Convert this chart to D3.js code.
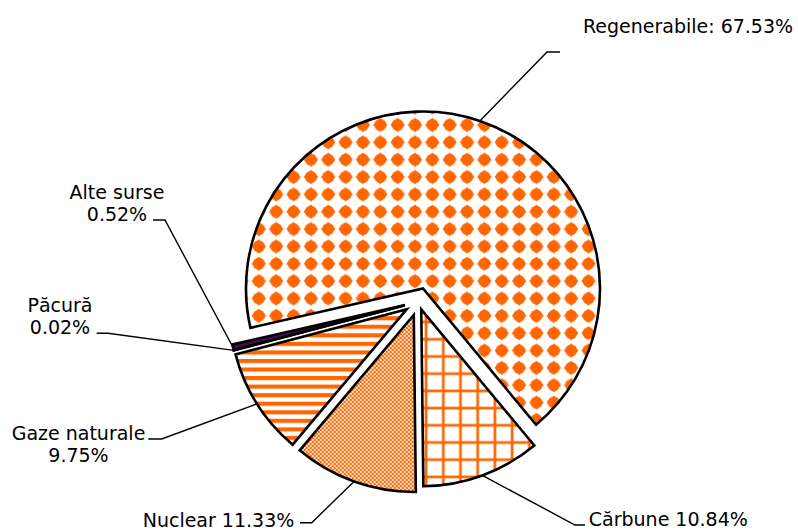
<!DOCTYPE html>
<html><head><meta charset="utf-8">
<script src="https://cdn.jsdelivr.net/npm/d3@7/dist/d3.min.js"></script>
<style>
html,body{margin:0;padding:0;background:#fff;}
svg{display:block;}
text{font-family:"DejaVu Sans",Verdana,sans-serif;font-size:19px;fill:#000;}
</style></head>
<body>
<svg id="chart" width="798" height="531"></svg>
<script>
// ---- data ----
const categories = ["Cărbune", "Nuclear", "Gaze naturale", "Păcură", "Alte surse", "Regenerabile"];
const shares = [10.84, 11.33, 9.75, 0.02, 0.52, 67.53];

// ---- layout / style (not data) ----
const W = 798, H = 531;
const center = {x: 418.5, y: 301.8};
const radius = 177;
const startDeg = 140.3;
const explode = [8, 14, 14, 14, 14, 14];
const fills = ["url(#pCarb)", "url(#pNuc)", "url(#pGaz)", "#4a0a52", "#4a0a52", "url(#pReg)"];
// label layout: anchor x, first line center y, elbow, end of horizontal
const labelLayout = [
  {fmt: "inline", x: 668.3, y: 519, elbow: [575, 525], end: [585, 525]},
  {fmt: "inline", x: 218.5, y: 520, elbow: [311.7, 522.7], end: [300, 522.7]},
  {fmt: "twoline", x: 78.5, y: 432.7, elbow: [161.7, 439], end: [148.3, 439]},
  {fmt: "twoline", x: 60, y: 305, elbow: [108, 333.3], end: [96.7, 333.3]},
  {fmt: "twoline", x: 117, y: 191.7, elbow: [165, 220], end: [153, 220]},
  {fmt: "colon", x: 688, y: 26, elbow: [547, 52], end: [560, 52]}
];
const lineGap = 22.5;

const svg = d3.select("#chart");
const defs = svg.append("defs");
const orange = "#ff6600";

const rad = d => d * Math.PI / 180;
const pie = d3.pie().sort(null).value(d => d)
  .startAngle(rad(startDeg)).endAngle(rad(startDeg + 360));
const arcs = pie(shares);
const arcGen = d3.arc().innerRadius(0).outerRadius(radius);

const apex = arcs.map((a, i) => {
  const mid = (a.startAngle + a.endAngle) / 2;
  return {x: center.x + explode[i] * Math.sin(mid), y: center.y - explode[i] * Math.cos(mid), mid};
});

const mod = (v, m) => ((v % m) + m) % m;

// Regenerabile: rounded diamond dots
(function () {
  const s = 17.35, a = apex[5];
  const p = defs.append("pattern").attr("id", "pReg").attr("patternUnits", "userSpaceOnUse")
    .attr("width", s).attr("height", s)
    .attr("x", mod(415 - a.x - s / 2, s)).attr("y", mod(125 - a.y - s / 2, s));
  p.append("rect").attr("width", s).attr("height", s).attr("fill", "#fff");
  const c = s / 2, h = 7.3;
  p.append("path").attr("d", `M${c},${c - h}L${c + h},${c}L${c},${c + h}L${c - h},${c}Z`).attr("fill", orange);
  p.append("circle").attr("cx", c).attr("cy", c).attr("r", 6.0).attr("fill", orange);
})();

// Cărbune: grid
(function () {
  const s = 17.2, w = 2.7, a = apex[0];
  const p = defs.append("pattern").attr("id", "pCarb").attr("patternUnits", "userSpaceOnUse")
    .attr("width", s).attr("height", s)
    .attr("x", mod(443.3 - a.x - s / 2, s)).attr("y", mod(339.3 - a.y - s / 2, s));
  p.append("rect").attr("width", s).attr("height", s).attr("fill", "#fff");
  p.append("rect").attr("x", s / 2 - w / 2).attr("y", 0).attr("width", w).attr("height", s).attr("fill", orange);
  p.append("rect").attr("y", s / 2 - w / 2).attr("x", 0).attr("height", w).attr("width", s).attr("fill", orange);
})();

// Nuclear: fine checkerboard
(function () {
  const p = defs.append("pattern").attr("id", "pNuc").attr("patternUnits", "userSpaceOnUse")
    .attr("width", 4).attr("height", 4);
  p.append("rect").attr("width", 4).attr("height", 4).attr("fill", "#ffe2cc");
  p.append("rect").attr("width", 2).attr("height", 2).attr("fill", orange);
  p.append("rect").attr("x", 2).attr("y", 2).attr("width", 2).attr("height", 2).attr("fill", orange);
})();

// Gaze naturale: horizontal stripes
(function () {
  const s = 8.55, a = apex[2];
  const p = defs.append("pattern").attr("id", "pGaz").attr("patternUnits", "userSpaceOnUse")
    .attr("width", 20).attr("height", s)
    .attr("y", mod(333.3 - a.y, s));
  p.append("rect").attr("width", 20).attr("height", s).attr("fill", "#fff");
  p.append("rect").attr("width", 20).attr("height", 4.1).attr("fill", orange);
})();

// slices
const slices = svg.append("g");
arcs.forEach((a, i) => {
  slices.append("path")
    .attr("transform", `translate(${apex[i].x},${apex[i].y})`)
    .attr("d", arcGen(a))
    .attr("fill", fills[i])
    .attr("stroke", "#000")
    .attr("stroke-width", 2.6)
    .attr("stroke-linejoin", "miter");
});

// leader lines + labels
const lab = svg.append("g");
arcs.forEach((a, i) => {
  const L = labelLayout[i];
  const ax = apex[i].x + radius * Math.sin(apex[i].mid);
  const ay = apex[i].y - radius * Math.cos(apex[i].mid);
  lab.append("polyline")
    .attr("points", [[ax, ay], L.elbow, L.end].map(p => p.join(",")).join(" "))
    .attr("fill", "none").attr("stroke", "#000").attr("stroke-width", 1.4);
  const pct = d3.format(".2f")(shares[i]) + "%";
  let lines;
  if (L.fmt === "inline") lines = [categories[i] + " " + pct];
  else if (L.fmt === "colon") lines = [categories[i] + ": " + pct];
  else lines = [categories[i], pct];
  const t = lab.append("text").attr("text-anchor", "middle");
  lines.forEach((ln, k) => {
    t.append("tspan").attr("x", L.x).attr("y", L.y + k * lineGap).attr("dy", "0.36em").text(ln);
  });
});
</script>
</body></html>
